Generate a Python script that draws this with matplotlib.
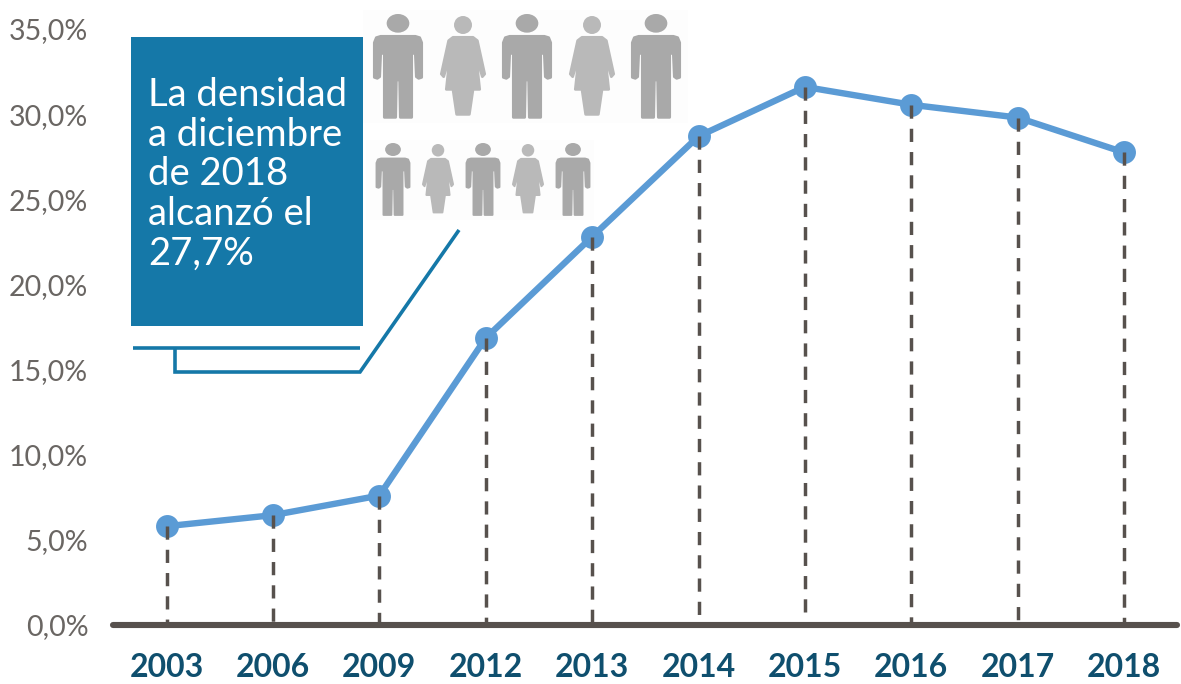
import matplotlib
matplotlib.use("Agg")
import matplotlib.pyplot as plt
from matplotlib.patches import Ellipse, Polygon, Rectangle

plt.rcParams["font.family"] = ["Lato", "DejaVu Sans"]

# datos
years = ["2003", "2006", "2009", "2012", "2013", "2014", "2015", "2016", "2017", "2018"]
density = [5.8, 6.45, 7.6, 16.85, 22.8, 28.7, 31.6, 30.55, 29.8, 27.75]
y_ticks = [0, 5, 10, 15, 20, 25, 30, 35]
y_labels = ["0,0%", "5,0%", "10,0%", "15,0%", "20,0%", "25,0%", "30,0%", "35,0%"]
note_lines = ["La densidad", "a diciembre", "de 2018", "alcanzó el", "27,7%"]

W, H = 1181, 684
LINE = "#5b9bd5"
DARK = "#57514d"
BLUE = "#1578a8"
YEAR = "#0f4f6e"
TICK = "#6a6663"

# siluetas, en unidades del icono (centro en x=0, arriba y=0)
MAN = [(-52, 67), (52, 67), (65, 71), (71, 86), (71, 190), (62, 193), (55, 188), (52, 118), (46, 118),
       (41, 120), (41, 310), (7, 310), (5, 198), (-5, 198), (-7, 310), (-41, 310), (-41, 120),
       (-46, 118), (-52, 118), (-55, 188), (-62, 193), (-71, 190), (-71, 86), (-65, 71)]
WOMAN = [(-30, 64), (30, 64), (43, 74), (65, 174), (58, 182), (39, 118), (50, 220), (30, 220),
         (19, 295), (-19, 295), (-30, 220), (-50, 220), (-39, 118), (-58, 182), (-65, 174), (-43, 74)]


def draw_person(ax, cx, top, scale, kind):
    # dibuja un hombre o una mujer en coordenadas de pixel
    if kind == "M":
        pts, color, head = MAN, "#a9a9a9", (28, 34, 28)
    else:
        pts, color, head = WOMAN, "#b9b9b9", (27, 27, 27)
    ax.add_patch(Polygon([(cx + x * scale, top + y * scale) for x, y in pts], closed=True,
                         fc=color, ec=color, lw=6 * scale, joinstyle="round"))
    ax.add_patch(Ellipse((cx, top + head[0] * scale), 2 * head[1] * scale, 2 * head[2] * scale,
                         fc=color, ec="none"))


fig = plt.figure(figsize=(W / 100, H / 100), dpi=100)

# capa de fondo con la nota y los iconos, en pixeles
over = fig.add_axes([0, 0, 1, 1], zorder=1)
over.set_xlim(0, W)
over.set_ylim(H, 0)
over.axis("off")

over.add_patch(Rectangle((131, 37), 232, 289, fc=BLUE, ec="none"))
for i, line in enumerate(note_lines):
    over.text(148, 95 + i * 39.7, line, color="white", fontsize=27.5, va="center", ha="left")
over.plot([133, 360], [348, 348], color=BLUE, lw=2.6, solid_capstyle="butt")
over.plot([175, 175, 360, 459], [348, 372, 372, 230], color=BLUE, lw=2.6,
          solid_joinstyle="miter", solid_capstyle="butt")

over.add_patch(Rectangle((363, 10), 325, 113, fc="#fdfdfd", ec="none"))
over.add_patch(Rectangle((366, 140), 228, 80, fc="#fdfdfd", ec="none"))
for cx, kind in zip([398, 463, 527, 592, 656], "MWMWM"):
    draw_person(over, cx, 14 if kind == "M" else 16, 1 / 3, kind)
for cx, kind in zip([393, 438, 483, 528, 573], "MWMWM"):
    draw_person(over, cx, 143 if kind == "M" else 144, 0.232, kind)

# grafico principal
ax = fig.add_axes([113.3 / W, (H - 625) / H, 1064 / W, 596 / H], zorder=2)
ax.patch.set_visible(False)
x = list(range(len(years)))

ax.plot(x, density, color=LINE, lw=4.6, marker="o", ms=16.5, mec=LINE, mew=0,
        solid_joinstyle="round", clip_on=False, zorder=3)
ax.vlines(x, density, 0, color=DARK, lw=2.5, linestyles=[(0, (3.8, 2.9))], zorder=4)

ax.set_xlim(-0.5, 9.5)
ax.set_ylim(0, 35)
ax.set_xticks(x)
ax.set_xticklabels(years, color=YEAR, fontsize=23, fontweight="bold")
ax.set_yticks(y_ticks)
ax.set_yticklabels(y_labels, color=TICK, fontsize=20.5, va="center_baseline")
ax.tick_params(axis="both", length=0)
ax.tick_params(axis="x", pad=20)
ax.tick_params(axis="y", pad=18)
for side in ["top", "left", "right"]:
    ax.spines[side].set_visible(False)
ax.spines["bottom"].set_color(DARK)
ax.spines["bottom"].set_linewidth(4.4)
ax.spines["bottom"].set_capstyle("round")

fig.savefig("out.png", dpi=100)
